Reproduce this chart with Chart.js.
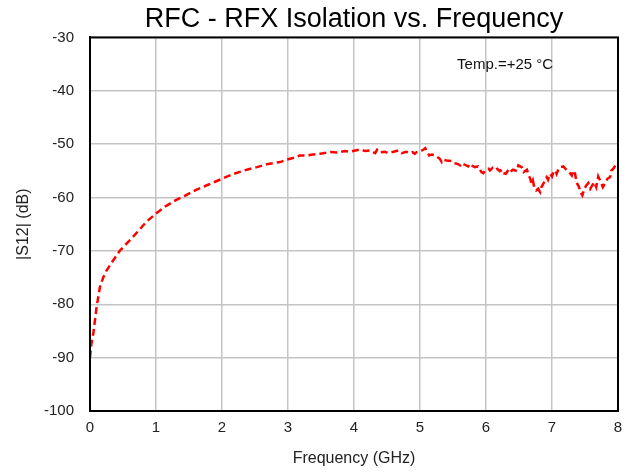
<!DOCTYPE html>
<html>
<head>
<meta charset="utf-8">
<script src="https://cdn.jsdelivr.net/npm/chart.js@4/dist/chart.umd.min.js"></script>
<style>
  html, body { margin: 0; padding: 0; background: #fff; }
  #wrap { width: 633px; height: 472px; }
</style>
</head>
<body>
<div id="wrap"><canvas id="isoChart"></canvas></div>
<script>
// frequency in GHz
const freqGHz = [
  0.00, 0.02, 0.05, 0.10, 0.15, 0.20, 0.25, 0.35, 0.45, 0.55,
  0.65, 0.75, 0.85, 1.00, 1.15, 1.30, 1.45, 1.60, 1.77, 2.00,
  2.15, 2.27, 2.40, 2.53, 2.70, 2.88, 2.98, 3.13, 3.18, 3.28,
  3.38, 3.49, 3.64, 3.74, 3.86, 3.94, 4.09, 4.17, 4.24, 4.32,
  4.35, 4.39, 4.47, 4.52, 4.60, 4.67, 4.72, 4.79, 4.85, 4.89,
  4.92, 4.95, 5.00, 5.03, 5.05, 5.08, 5.10, 5.14, 5.18, 5.23,
  5.25, 5.30, 5.33, 5.35, 5.40, 5.48, 5.51, 5.56, 5.61, 5.63,
  5.68, 5.73, 5.76, 5.78, 5.83, 5.88, 5.91, 5.93, 5.96, 6.00,
  6.04, 6.06, 6.10, 6.14, 6.17, 6.21, 6.24, 6.26, 6.30, 6.34,
  6.36, 6.41, 6.47, 6.49, 6.54, 6.57, 6.62, 6.64, 6.67, 6.69,
  6.71, 6.73, 6.76, 6.79, 6.82, 6.84, 6.87, 6.89, 6.92, 6.94,
  6.97, 7.00, 7.02, 7.05, 7.07, 7.10, 7.12, 7.17, 7.22, 7.26,
  7.30, 7.32, 7.35, 7.37, 7.41, 7.43, 7.46, 7.49, 7.52, 7.55,
  7.58, 7.61, 7.64, 7.67, 7.70, 7.74, 7.77, 7.80, 7.84, 7.88,
  7.90, 7.93, 7.97, 8.00
];
// |S12| in dB
const s12dB = [
  -90.0, -87.5, -85.5, -80.5, -76.8, -75.0, -73.7, -71.8, -70.0, -68.7,
  -67.4, -66.0, -64.6, -63.0, -61.6, -60.5, -59.6, -58.6, -57.7, -56.5,
  -55.7, -55.2, -54.7, -54.3, -53.7, -53.36, -52.92, -52.42, -52.11, -52.15,
  -51.93, -51.80, -51.49, -51.55, -51.30, -51.43, -50.99, -51.30, -51.18, -51.68,
  -51.05, -51.55, -51.43, -51.68, -51.43, -51.18, -51.68, -51.43, -51.68, -51.49,
  -51.80, -51.49, -51.30, -51.18, -51.05, -50.75, -51.30, -52.11, -51.93, -52.11,
  -52.30, -52.74, -53.36, -52.92, -53.05, -53.17, -53.55, -53.67, -53.99, -53.55,
  -53.86, -54.18, -53.67, -53.99, -54.30, -54.18, -54.80, -55.24, -55.43, -54.80,
  -54.61, -54.93, -54.43, -54.80, -54.61, -55.05, -54.80, -55.43, -55.55, -54.80,
  -55.24, -54.80, -55.05, -53.99, -54.30, -55.24, -54.80, -55.55, -56.49, -57.42,
  -56.80, -58.05, -58.67, -58.36, -58.99, -58.05, -57.42, -56.80, -56.17, -56.67,
  -55.55, -56.05, -55.24, -54.93, -55.55, -54.61, -54.30, -54.18, -54.80, -55.24,
  -55.86, -54.93, -55.55, -57.11, -58.05, -58.99, -59.61, -58.36, -57.74, -57.30,
  -58.36, -57.74, -57.11, -58.05, -56.05, -57.11, -58.05, -57.42, -56.49, -56.17,
  -54.93, -54.61, -53.80, -53.99
];
const xTicks = [0, 1, 2, 3, 4, 5, 6, 7, 8];
const yTicks = [-100, -90, -80, -70, -60, -50, -40, -30];

const points = freqGHz.map((f, i) => ({ x: f, y: s12dB[i] }));

const FONT = '"Liberation Sans", Arial, sans-serif';

// black frame round the plot + temperature note
const framePlugin = {
  id: 'frame',
  afterDraw(chart) {
    const { ctx, chartArea: a } = chart;
    ctx.save();
    ctx.strokeStyle = '#000';
    ctx.lineWidth = 2;
    ctx.strokeRect(a.left, a.top, a.right - a.left, a.bottom - a.top);
    ctx.fillStyle = '#111';
    ctx.font = '15px ' + FONT;
    ctx.textAlign = 'center';
    ctx.textBaseline = 'middle';
    const xs = chart.scales.x, ys = chart.scales.y;
    ctx.fillText('Temp.=+25 °C', xs.getPixelForValue(6.29), ys.getPixelForValue(-35.1));
    ctx.restore();
  }
};

new Chart(document.getElementById('isoChart'), {
  type: 'line',
  data: {
    datasets: [{
      data: points,
      borderColor: '#ff0000',
      borderWidth: 2.5,
      borderDash: [7, 4],
      pointRadius: 0,
      tension: 0,
      fill: false
    }]
  },
  options: {
    responsive: true,
    maintainAspectRatio: false,
    animation: false,
    layout: { padding: { right: 15 } },
    plugins: {
      legend: { display: false },
      tooltip: { enabled: false },
      title: {
        display: true,
        fullSize: false,
        text: 'RFC - RFX Isolation vs. Frequency',
        color: '#000',
        font: { family: FONT, size: 27, weight: 'normal' },
        padding: { top: 3, bottom: 2 }
      }
    },
    scales: {
      x: {
        type: 'linear',
        min: 0,
        max: 8,
        afterBuildTicks(s) { s.ticks = xTicks.map(v => ({ value: v })); },
        afterFit(s) { s.height = 61; },
        grid: { color: '#c4c4c4', lineWidth: 1.5, drawTicks: false },
        border: { color: '#000', width: 2 },
        ticks: {
          color: '#222',
          padding: 8,
          font: { family: FONT, size: 15 }
        },
        title: {
          display: true,
          text: 'Frequency (GHz)',
          color: '#222',
          padding: { top: 2 },
          font: { family: FONT, size: 16 }
        }
      },
      y: {
        type: 'linear',
        min: -100,
        max: -30,
        afterBuildTicks(s) { s.ticks = yTicks.map(v => ({ value: v })); },
        afterFit(s) { s.width = 90; },
        grid: { color: '#c4c4c4', lineWidth: 1.5, drawTicks: false },
        border: { color: '#000', width: 2 },
        ticks: {
          color: '#222',
          padding: 16,
          font: { family: FONT, size: 15 }
        },
        title: {
          display: true,
          text: '|S12| (dB)',
          color: '#222',
          padding: { top: 14 },
          font: { family: FONT, size: 16 }
        }
      }
    }
  },
  plugins: [framePlugin]
});
</script>
</body>
</html>
